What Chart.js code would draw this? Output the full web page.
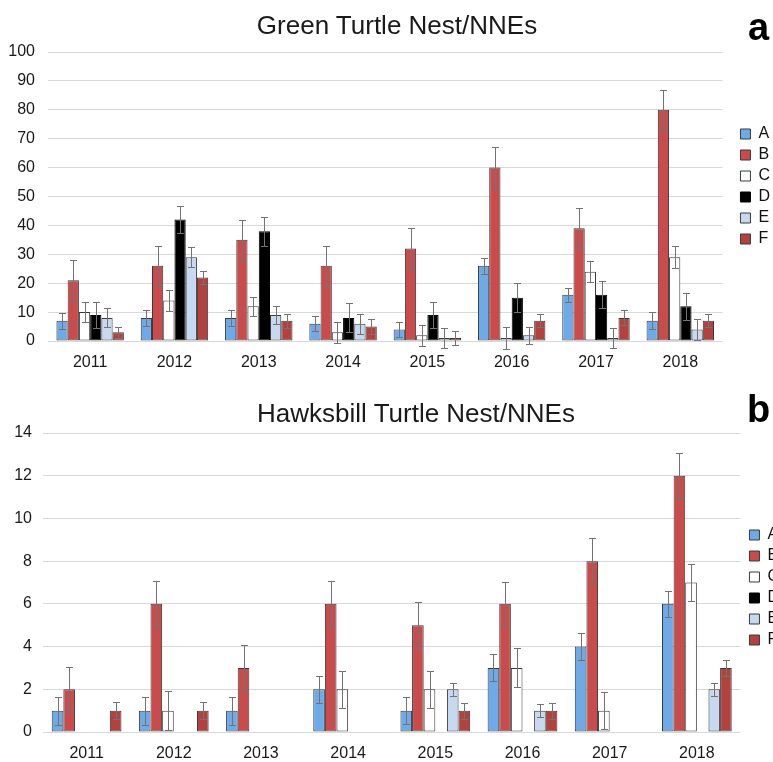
<!DOCTYPE html>
<html>
<head>
<meta charset="utf-8">
<title>Turtle Nest/NNEs</title>
<script src="https://cdn.jsdelivr.net/npm/chart.js@4.4.1/dist/chart.umd.min.js"></script>
<style>
body { margin: 0; background: #fff; font-family: "Liberation Sans", Arial, sans-serif; }
#page { position: relative; width: 773px; height: 762px; overflow: hidden; }
.box { position: absolute; left: 0; width: 773px; overflow: hidden; }
canvas { display: block; }
.ttl { position: absolute; font-size: 26px; line-height: 26px; color: #1a1a1a; white-space: nowrap; transform: translateX(-50%); }
.tag { position: absolute; font-size: 38px; line-height: 38px; font-weight: bold; color: #000; }
</style>
</head>
<body>
<div id="page">
  <div class="box" style="top:0;height:385px"><canvas id="green" width="780" height="385"></canvas></div>
  <div class="box" style="top:385px;height:377px"><canvas id="hawk" width="789" height="377"></canvas></div>
  <div class="ttl" style="left:397px;top:12px">Green Turtle Nest/NNEs</div>
  <div class="tag" style="left:748px;top:8px">a</div>
  <div class="ttl" style="left:416px;top:400px">Hawksbill Turtle Nest/NNEs</div>
  <div class="tag" style="left:747px;top:390px">b</div>
</div>

<script>
//=====================================
// data
//=====================================
var years = ['2011', '2012', '2013', '2014', '2015', '2016', '2017', '2018'];
var sites = ['A', 'B', 'C', 'D', 'E', 'F'];

// green turtle
var greenA = [7, 8, 8, 6, 4, 26, 16, 7];
var greenB = [21, 26, 35, 26, 32, 60, 39, 80];
var greenC = [10, 14, 12, 3, 2, 1, 24, 29];
var greenD = [9, 42, 38, 8, 9, 15, 16, 12];
var greenE = [8, 29, 9, 6, 1, 2, 1, 4];
var greenF = [3, 22, 7, 5, 1, 7, 8, 7];
// green error bars (+/-)
var greenErrA = [2.8, 2.7, 2.7, 2.5, 2.7, 2.7, 2.5, 2.9];
var greenErrB = [7, 7, 7, 7, 7, 7, 7, 7];
var greenErrC = [3.5, 3.5, 3.2, 3.7, 3.6, 3.7, 3.6, 3.7];
var greenErrD = [4.5, 4.7, 5, 5, 4.4, 5, 4.6, 4.6];
var greenErrE = [3.3, 3.5, 3, 3.5, 3.5, 2.9, 3.5, 3.5];
var greenErrF = [2, 2.3, 2.5, 2.5, 2.3, 2.2, 2.6, 2.2];
var greenTicks = { max: 100, step: 10 };

// hawksbill turtle
var hawkA = [1, 1, 1, 2, 1, 3, 4, 6];
var hawkB = [2, 6, 3, 6, 5, 6, 8, 12];
var hawkC = [0, 1, 0, 2, 2, 3, 1, 7];
var hawkD = [0, 0, 0, 0, 0, 0, 0, 0];
var hawkE = [0, 0, 0, 0, 2, 1, 0, 2];
var hawkF = [1, 1, 0, 0, 1, 1, 0, 3];
// hawksbill error bars (+/-)
var hawkErrA = [0.65, 0.65, 0.65, 0.63, 0.64, 0.63, 0.62, 0.62];
var hawkErrB = [1.05, 1.05, 1.07, 1.07, 1.07, 1.04, 1.08, 1.07];
var hawkErrC = [0, 0.9, 0, 0.86, 0.86, 0.91, 0.88, 0.87];
var hawkErrD = [0, 0, 0, 0, 0, 0, 0, 0];
var hawkErrE = [0, 0, 0, 0, 0.3, 0.3, 0, 0.3];
var hawkErrF = [0.4, 0.4, 0, 0, 0.38, 0.38, 0, 0.36];
var hawkTicks = { max: 14, step: 2 };

// colours per site
var fills = ['#6eaae8', '#c94b4b', '#ffffff', '#000000', '#c6d9f1', '#b3423f'];
var edges = ['#3a3a3a', '#3a3a3a', '#3a3a3a', '#000000', '#3a3a3a', '#3a3a3a'];

Chart.defaults.font.family = '"Liberation Sans", Arial, sans-serif';
Chart.defaults.color = '#1a1a1a';

//=====================================
// error bars
//=====================================
var errorBars = {
  id: 'errorBars',
  afterDatasetsDraw: function(chart) {
    var ctx = chart.ctx;
    var y = chart.scales.y;
    ctx.save();
    ctx.strokeStyle = '#737373';
    ctx.lineWidth = 1;
    chart.data.datasets.forEach(function(ds, i) {
      var meta = chart.getDatasetMeta(i);
      meta.data.forEach(function(bar, j) {
        var v = ds.data[j];
        var e = ds.errors[j];
        if (!v || !e) return;
        var x = Math.round(bar.x) + 0.5;
        var top = Math.round(y.getPixelForValue(v + e)) + 0.5;
        var bot = Math.round(y.getPixelForValue(v - e)) + 0.5;
        ctx.beginPath();
        ctx.moveTo(x, top); ctx.lineTo(x, bot);
        ctx.moveTo(x - 3.5, top); ctx.lineTo(x + 3.5, top);
        ctx.moveTo(x - 3.5, bot); ctx.lineTo(x + 3.5, bot);
        ctx.stroke();
      });
    });
    ctx.restore();
  }
};

function makeSets(values, errors) {
  return sites.map(function(name, i) {
    return {
      label: name,
      data: values[i],
      errors: errors[i],
      backgroundColor: fills[i],
      borderColor: edges[i],
      // no outline for empty bars
      borderWidth: function(c) { return c.raw === 0 ? 0 : 1; },
      borderSkipped: false,
      barPercentage: 1,
      categoryPercentage: 0.8
    };
  });
}

// legend boxes always get an outline
function legendItems(chart) {
  var items = Chart.defaults.plugins.legend.labels.generateLabels(chart);
  items.forEach(function(it) { it.lineWidth = 1; });
  return items;
}

// lay: chartTop, chartBottom, leftW, labelPad, gapR, legendTop
function drawChart(id, values, errors, ticks, lay) {
  var canvas = document.getElementById(id);
  return new Chart(canvas, {
    type: 'bar',
    data: { labels: years, datasets: makeSets(values, errors) },
    plugins: [errorBars],
    options: {
      responsive: false,
      animation: false,
      layout: { padding: { top: lay.chartTop, left: 0, right: 0, bottom: 0 } },
      plugins: {
        legend: {
          position: 'right',
          align: 'start',
          title: { display: true, text: '', font: { size: 10 }, padding: { top: lay.legendTop - 12, bottom: 0 } },
          labels: { boxWidth: 10, boxHeight: 10, padding: 5, color: '#111', font: { size: 16 }, generateLabels: legendItems }
        },
        tooltip: { enabled: false }
      },
      scales: {
        x: {
          grid: { display: false, drawTicks: false },
          border: { display: false },
          ticks: { padding: 12, font: { size: 16 } },
          afterFit: function(s) { s.height = canvas.height - lay.chartBottom; }
        },
        y: {
          min: 0,
          max: ticks.max,
          ticks: { stepSize: ticks.step, padding: lay.labelPad, font: { size: 16 } },
          grid: { color: '#d9d9d9', drawTicks: false },
          border: { display: false },
          afterFit: function(s) { s.width = lay.leftW; }
        },
        yR: {
          type: 'linear',
          position: 'right',
          display: true,
          grid: { display: false, drawTicks: false },
          ticks: { display: false },
          border: { display: false },
          afterFit: function(s) { s.width = lay.gapR; }
        }
      }
    }
  });
}

drawChart('green',
  [greenA, greenB, greenC, greenD, greenE, greenF],
  [greenErrA, greenErrB, greenErrC, greenErrD, greenErrE, greenErrF],
  greenTicks,
  { chartTop: 52, chartBottom: 341, leftW: 48, labelPad: 13, gapR: 13, legendTop: 69 });

drawChart('hawk',
  [hawkA, hawkB, hawkC, hawkD, hawkE, hawkF],
  [hawkErrA, hawkErrB, hawkErrC, hawkErrD, hawkErrE, hawkErrF],
  hawkTicks,
  { chartTop: 48, chartBottom: 347, leftW: 43, labelPad: 11, gapR: 4, legendTop: 89 });
</script>
</body>
</html>
